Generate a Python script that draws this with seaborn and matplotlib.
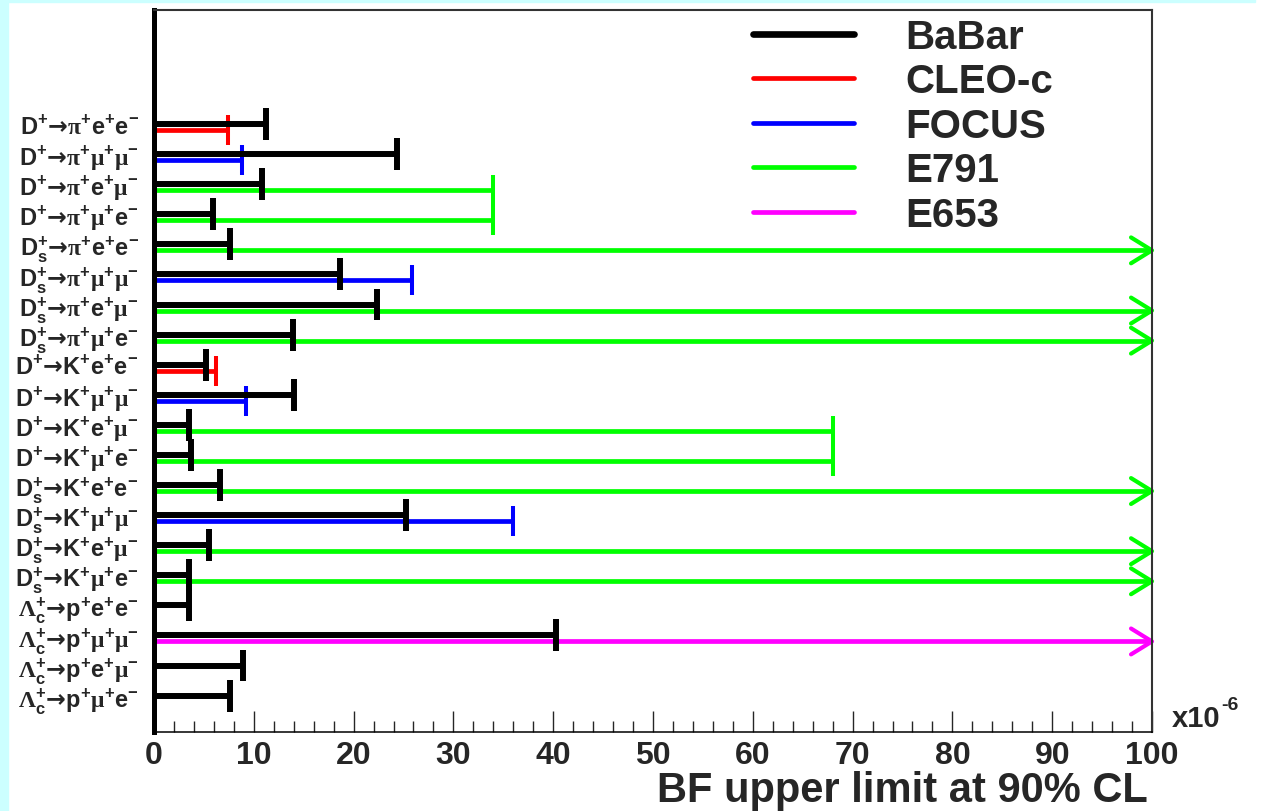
import numpy as np
import pandas as pd
import matplotlib.pyplot as plt
from matplotlib.lines import Line2D
from matplotlib.patches import Rectangle
import seaborn as sns

sns.set_style("white")
plt.rcParams['font.family'] = ['Liberation Sans', 'DejaVu Sans']
plt.rcParams['font.weight'] = 'bold'
plt.rcParams['mathtext.fontset'] = 'custom'
plt.rcParams['mathtext.rm'] = 'Liberation Sans:bold'
plt.rcParams['mathtext.bf'] = 'Liberation Sans:bold'
plt.rcParams['mathtext.cal'] = 'Liberation Serif'
plt.rcParams['mathtext.sf'] = 'DejaVu Sans'

# ---- pieces of the decay labels (mathtext) ----
D = r"\mathbf{D}^{+}"
DS = r"\mathbf{D}_{\mathbf{s}}^{+}"
LC = r"\mathcal{\Lambda}_{\mathbf{c}}^{+}"
TO = r"\mathsf{→}"
PI = r"\mathcal{\pi}^{+}"
K = r"\mathbf{K}^{+}"
P = r"\mathbf{p}^{+}"
EE = r"\mathbf{e}^{+}\mathbf{e}^{-}"
MM = r"\mathcal{\mu}^{+}\mathcal{\mu}^{-}"
EM = r"\mathbf{e}^{+}\mathcal{\mu}^{-}"
ME = r"\mathcal{\mu}^{+}\mathbf{e}^{-}"

# decay channels, top to bottom
channels = [
    "$" + D + TO + PI + EE + "$",
    "$" + D + TO + PI + MM + "$",
    "$" + D + TO + PI + EM + "$",
    "$" + D + TO + PI + ME + "$",
    "$" + DS + TO + PI + EE + "$",
    "$" + DS + TO + PI + MM + "$",
    "$" + DS + TO + PI + EM + "$",
    "$" + DS + TO + PI + ME + "$",
    "$" + D + TO + K + EE + "$",
    "$" + D + TO + K + MM + "$",
    "$" + D + TO + K + EM + "$",
    "$" + D + TO + K + ME + "$",
    "$" + DS + TO + K + EE + "$",
    "$" + DS + TO + K + MM + "$",
    "$" + DS + TO + K + EM + "$",
    "$" + DS + TO + K + ME + "$",
    "$" + LC + TO + P + EE + "$",
    "$" + LC + TO + P + MM + "$",
    "$" + LC + TO + P + EM + "$",
    "$" + LC + TO + P + ME + "$",
]

# BF upper limits at 90% CL (x1e-6); np.inf = off scale (drawn as arrow)
babar = [11.2, 24.3, 10.8, 5.9, 7.6, 18.6, 22.3, 13.9, 5.2, 14.0,
         3.5, 3.7, 6.6, 25.3, 5.5, 3.5, 3.5, 40.3, 8.9, 7.6]

cleo_rows = [0, 8]
cleo_vals = [7.4, 6.2]
focus_rows = [1, 5, 9, 13]
focus_vals = [8.8, 25.9, 9.2, 36.0]
e791_rows = [2, 3, 4, 6, 7, 10, 11, 12, 14, 15]
e791_vals = [34.0, 34.0, np.inf, np.inf, np.inf, 68.0, 68.0, np.inf, np.inf, np.inf]
e653_rows = [17]
e653_vals = [np.inf]

experiments = ["BaBar", "CLEO-c", "FOCUS", "E791", "E653"]
colors = {"BaBar": "black", "CLEO-c": "#ff0000", "FOCUS": "#0000ff",
          "E791": "#00ff00", "E653": "#ff00ff"}

others = [("CLEO-c", cleo_rows, cleo_vals),
          ("FOCUS", focus_rows, focus_vals),
          ("E791", e791_rows, e791_vals),
          ("E653", e653_rows, e653_vals)]

XMAX = 100
OFF = 0.2          # colored line sits just below the BaBar one
LW_B, LW_C = 4.3, 3.4

fig, ax = plt.subplots(figsize=(12.61, 8.12), dpi=100)
fig.subplots_adjust(left=154 / 1261, right=1152 / 1261,
                    bottom=1 - 733 / 812, top=1 - 11 / 812)

# light cyan page border
fig.patches.append(Rectangle((0, 0), 8 / 1261, 1, transform=fig.transFigure,
                             color="#ccffff", zorder=0))
fig.patches.append(Rectangle((0, 1 - 3 / 812), 1255 / 1261, 3 / 812,
                             transform=fig.transFigure, color="#ccffff", zorder=0))

# ---- other experiments ----
recs = []
for exp, rows, vals in others:
    for r, v in zip(rows, vals):
        recs.append(dict(exp=exp, seg=f"{exp}{r}", bf=0.0, row=r + OFF))
        recs.append(dict(exp=exp, seg=f"{exp}{r}", bf=min(v, XMAX), row=r + OFF))
seg = pd.DataFrame(recs)
sns.lineplot(data=seg, x="bf", y="row", hue="exp", units="seg", estimator=None,
             palette=colors, linewidth=LW_C, legend=False, ax=ax,
             solid_capstyle="butt", zorder=2)

for exp, rows, vals in others:
    c = colors[exp]
    for r, v in zip(rows, vals):
        y = r + OFF
        if v <= XMAX:
            ax.vlines(v, y - 0.5, y + 0.5, color=c, lw=2.9, zorder=2.5)
        else:
            ax.plot([XMAX - 2.1, XMAX, XMAX - 2.1], [y - 0.43, y, y + 0.43],
                    color=c, lw=3.0, clip_on=False, zorder=2.5)

# ---- BaBar ----
bb = pd.DataFrame({"bf": [0.0] * len(babar) + babar,
                   "row": list(range(len(babar))) * 2,
                   "seg": list(range(len(babar))) * 2})
sns.lineplot(data=bb, x="bf", y="row", units="seg", estimator=None,
             color="black", linewidth=LW_B, legend=False, ax=ax,
             solid_capstyle="butt", zorder=3)
for r, v in enumerate(babar):
    ax.vlines(v, r - 0.53, r + 0.53, color="black", lw=4.3, zorder=3.5)

# ---- axes ----
ax.set_xlim(0, XMAX)
ax.set_ylim(20.21, -3.79)
ax.set_yticks(range(len(channels)))
ax.set_yticklabels(channels, fontsize=17)
ax.set_xticks(np.arange(0, 101, 10))
ax.set_xticks(np.arange(0, 101, 2), minor=True)
ax.tick_params(axis="x", which="major", direction="in", length=15, width=1,
               pad=6, labelsize=23, bottom=True)
ax.tick_params(axis="x", which="minor", direction="in", length=8, width=1,
               bottom=True)
ax.tick_params(axis="y", length=0, pad=11)

ax.spines["left"].set_linewidth(3.6)
ax.spines["left"].set_color("black")
ax.spines["bottom"].set_linewidth(1.1)
ax.spines["bottom"].set_color("black")
for s in ("top", "right"):
    ax.spines[s].set_linewidth(1.5)
    ax.spines[s].set_color("#333333")

ax.set_ylabel("")
ax.set_xlabel("BF upper limit at 90% CL", fontsize=30, fontweight="bold",
              loc="right")
ax.xaxis.set_label_coords(0.996, -0.052)

# exponent of the x axis
fig.text(1172 / 1261, 1 - 727 / 812, "x10", fontsize=21, fontweight="bold",
         va="baseline", ha="left")
fig.text(1221 / 1261, 1 - 710 / 812, "-6", fontsize=14, fontweight="bold",
         va="baseline", ha="left")

# legend
handles = [Line2D([], [], color=colors[e], lw=(LW_B + 0.5 if e == "BaBar" else LW_C))
           for e in experiments]
ax.legend(handles, experiments, loc="upper left", bbox_to_anchor=(0.600, 0.989),
          frameon=False, fontsize=29, handlelength=2.51, handletextpad=1.27,
          labelspacing=0.16, borderpad=0, borderaxespad=0)

plt.savefig("out.png", dpi=100)
